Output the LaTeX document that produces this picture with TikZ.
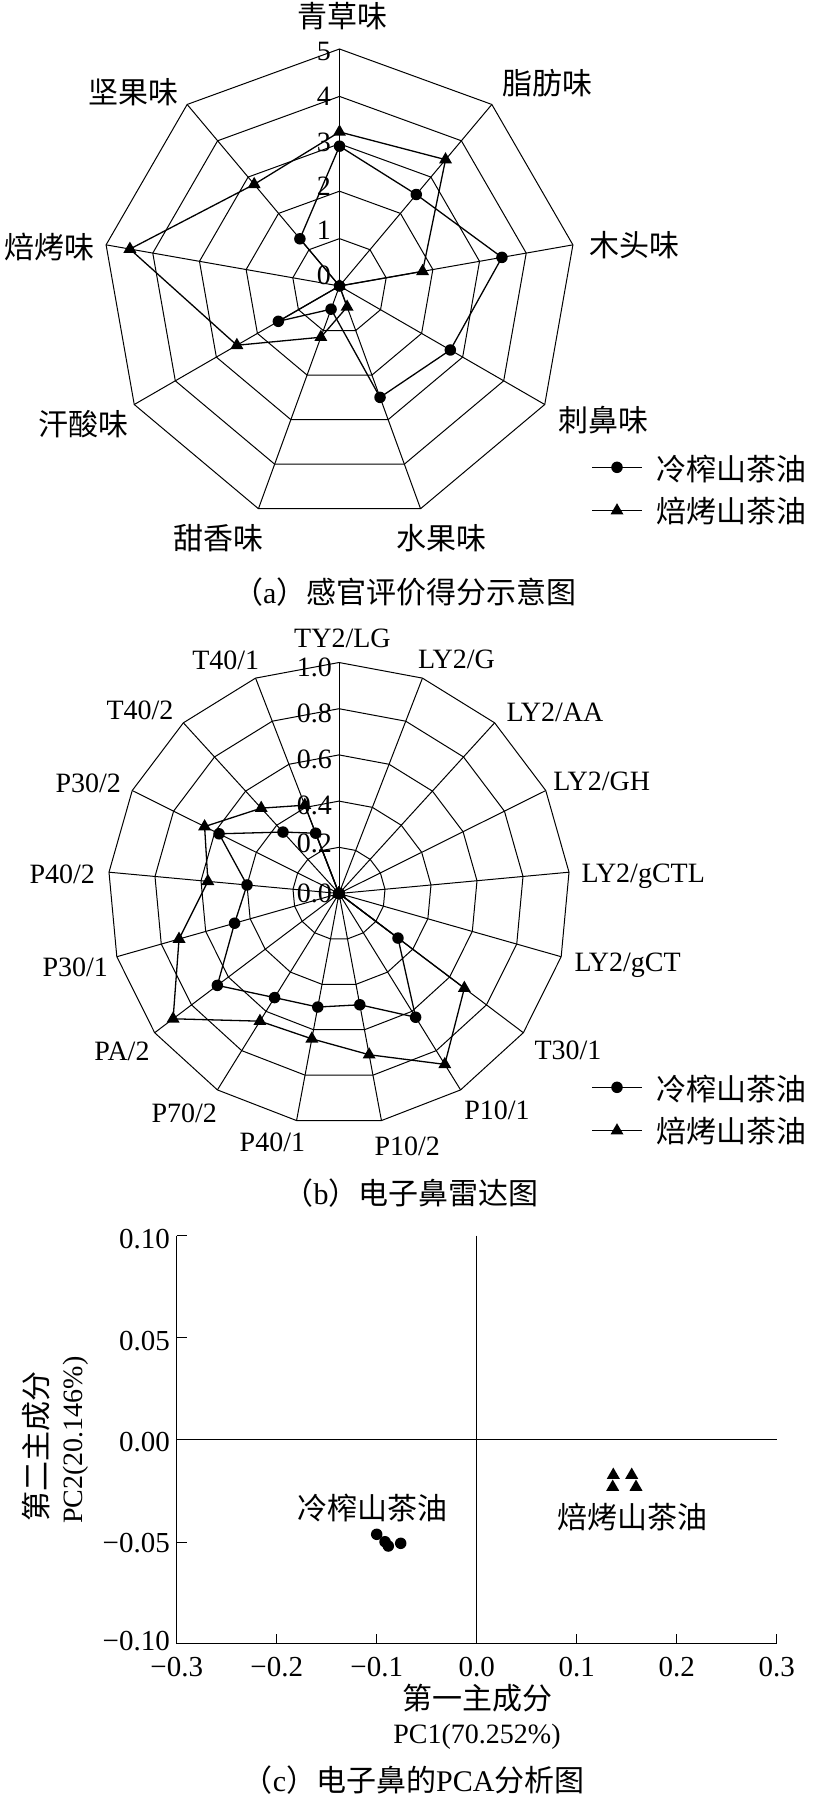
\documentclass[tikz,border=0pt]{standalone}
\usepackage{fontspec}
\setmainfont{Liberation Serif}
\newfontfamily\cjk{Noto Sans CJK SC}
\usetikzlibrary{calc,shapes.geometric}
\begin{document}
\begin{tikzpicture}[x=1pt,y=-1pt,
  gridl/.style={line width=1.0pt, black},
  dline/.style={line width=1.3pt, black},
  dotm/.style={circle, fill=black, inner sep=0pt, minimum size=11.5pt},
  trim/.style={regular polygon, regular polygon sides=3, fill=black, inner sep=0pt, minimum size=15pt},
  pdot/.style={circle, fill=black, inner sep=0pt, minimum size=11.5pt},
  ptri/.style={regular polygon, regular polygon sides=3, fill=black, inner sep=0pt, minimum size=15pt},
  lat/.style={font=\fontsize{28}{30}\selectfont, inner sep=0pt},
  latp/.style={font=\fontsize{29}{31}\selectfont, inner sep=0pt},
  cj/.style={font=\fontsize{30}{32}\selectfont\cjk, inner sep=0pt}]
\path[use as bounding box, fill=white] (0,0) rectangle (813,1800);

% ---------------- (a) sensory radar ----------------
\coordinate (ca) at (339.5,286);
\foreach \L in {1,...,5}{
  \pgfmathsetmacro\rr{47.4*\L}
  \draw[gridl] ($(ca)+(90:\rr pt)$) \foreach \k in {1,...,8}{ -- ($(ca)+({90-40*\k}:\rr pt)$)} -- cycle;
}
\foreach \k in {0,...,8}{
  \coordinate (av\k) at ($(ca)+({90-40*\k}:237pt)$);
  \draw[gridl] (ca) -- (av\k);
}
\foreach \t/\yy in {0/275,1/230,2/186,3/142,4/96,5/51}
  \node[lat, anchor=east] (al\t) at (331,\yy) {\t};

\node[cj] (an0) at (342.3,15.7) {青草味};
\node[cj] (an1) at (547.3,82.7) {脂肪味};
\node[cj] (an2) at (634,245.4) {木头味};
\node[cj] (an3) at (603.4,420.4) {刺鼻味};
\node[cj] (an4) at (441,538) {水果味};
\node[cj] (an5) at (218,538) {甜香味};
\node[cj] (an6) at (83,424.5) {汗酸味};
\node[cj] (an7) at (49.3,247.4) {焙烤味};
\node[cj] (an8) at (133.8,92.4) {坚果味};

\foreach \v [count=\k from 0] in {2.95,2.52,3.48,2.7,2.5,0.52,1.49,0,1.3}{
  \pgfmathsetmacro\rr{47.4*\v}
  \node[dotm] (ac\k) at ($(ca)+({90-40*\k}:\rr pt)$) {};
}
\foreach \v [count=\k from 0] in {3.25,3.48,1.78,0,0.47,1.15,2.5,4.49,2.8}{
  \pgfmathsetmacro\rr{47.4*\v}
  \node[trim] (ar\k) at ($(ca)+({90-40*\k}:\rr pt)$) {};
}
\draw[dline] (ac0.center) \foreach \k in {1,...,8}{ -- (ac\k.center)} -- cycle;
\draw[dline] (ar0.center) \foreach \k in {1,...,8}{ -- (ar\k.center)} -- cycle;

% legend (a)
\coordinate (la1s) at (592,467.3); \coordinate (la1e) at (642,467.3);
\draw[dline] (la1s) -- (la1e);
\node[dotm] (la1m) at (617,467.3) {};
\node[cj, anchor=west] (la1t) at (656,469) {冷榨山茶油};
\coordinate (la2s) at (592,510.7); \coordinate (la2e) at (642,510.7);
\draw[dline] (la2s) -- (la2e);
\node[trim] (la2m) at (617,510.7) {};
\node[cj, anchor=west] (la2t) at (656,511) {焙烤山茶油};

\node[cj] (capa) at (404.7,591.7) {（{\rmfamily a}）感官评价得分示意图};

% ---------------- (b) e-nose radar ----------------
\coordinate (cb) at (339,893.5);
\foreach \L in {1,...,5}{
  \pgfmathsetmacro\rr{46.2*\L}
  \draw[gridl] ($(cb)+(90:\rr pt)$) \foreach \k in {1,...,16}{ -- ($(cb)+({90-360/17*\k}:\rr pt)$)} -- cycle;
}
\foreach \k in {0,...,16}{
  \coordinate (bv\k) at ($(cb)+({90-360/17*\k}:231pt)$);
  \draw[gridl] (cb) -- (bv\k);
}
\foreach \t/\yy [count=\n] in {0.0/893,0.2/843,0.4/805,0.6/759.8,0.8/713.2,1.0/667.5}
  \node[lat, anchor=east] (bl\n) at (332,\yy) {\t};

\node[lat] (bn0) at (342.4,638.2) {TY2/LG};
\node[lat] (bn1) at (456.5,658.9) {LY2/G};
\node[lat] (bn2) at (555,712.3) {LY2/AA};
\node[lat] (bn3) at (601.8,781.2) {LY2/GH};
\node[lat] (bn4) at (643.3,876) {LY2/gCTL};
\node[lat] (bn5) at (627.7,965.6) {LY2/gCT};
\node[lat] (bn6) at (568,1050) {T30/1};
\node[lat] (bn7) at (497,1109.9) {P10/1};
\node[lat] (bn8) at (407.3,1146.6) {P10/2};
\node[lat] (bn9) at (272.4,1142) {P40/1};
\node[lat] (bn10) at (184.2,1113) {P70/2};
\node[lat] (bn11) at (122,1051.7) {PA/2};
\node[lat] (bn12) at (75.2,967.3) {P30/1};
\node[lat] (bn13) at (62.3,874.3) {P40/2};
\node[lat] (bn14) at (88.2,783) {P30/2};
\node[lat] (bn15) at (140,710.6) {T40/2};
\node[lat] (bn16) at (225.7,660.6) {T40/1};

\foreach \v [count=\k from 0] in {0,0,0,0,0,0,0.32,0.63,0.49,0.50,0.53,0.66,0.47,0.40,0.58,0.36,0.28}{
  \pgfmathsetmacro\rr{231*\v}
  \node[dotm] (bc\k) at ($(cb)+({90-360/17*\k}:\rr pt)$) {};
}
\foreach \v [count=\k from 0] in {0,0,0,0,0,0,0.68,0.87,0.71,0.64,0.65,0.90,0.72,0.57,0.65,0.50,0.41}{
  \pgfmathsetmacro\rr{231*\v}
  \node[trim] (br\k) at ($(cb)+({90-360/17*\k}:\rr pt)$) {};
}
\draw[dline] (bc0.center) \foreach \k in {1,...,16}{ -- (bc\k.center)} -- cycle;
\draw[dline] (br0.center) \foreach \k in {1,...,16}{ -- (br\k.center)} -- cycle;

% legend (b)
\coordinate (lb1s) at (592,1087.3); \coordinate (lb1e) at (642,1087.3);
\draw[dline] (lb1s) -- (lb1e);
\node[dotm] (lb1m) at (617,1087.3) {};
\node[cj, anchor=west] (lb1t) at (656,1089) {冷榨山茶油};
\coordinate (lb2s) at (592,1130.7); \coordinate (lb2e) at (642,1130.7);
\draw[dline] (lb2s) -- (lb2e);
\node[trim] (lb2m) at (617,1130.7) {};
\node[cj, anchor=west] (lb2t) at (656,1131) {焙烤山茶油};

\node[cj] (capb) at (411,1192.6) {（{\rmfamily b}）电子鼻雷达图};

% ---------------- (c) PCA ----------------
\coordinate (ytop) at (176.7,1235.7);
\coordinate (orig) at (176.7,1643.3);
\coordinate (xend) at (776.7,1643.3);
\coordinate (zt) at (476.7,1235.7);
\coordinate (zb) at (476.7,1643.3);
\coordinate (zl) at (176.7,1439.5);
\coordinate (zr) at (776.7,1439.5);
\draw[gridl] (ytop) -- (orig) -- (xend);
\draw[gridl] (zt) -- (zb);
\draw[gridl] (zl) -- (zr);
\foreach \i in {-0.2,-0.1,0.1,0.2,0.3}{
  \pgfmathsetmacro\xx{476.7+1000*\i}
  \draw[gridl] (\xx,1643.3) -- (\xx,1634.3);
}
\foreach \yy in {1235.7,1337.7,1542.3}{
  \draw[gridl] (176.7,\yy) -- (186.7,\yy);
}
\foreach \t/\xx [count=\n] in {−0.3/176.7,−0.2/276.7,−0.1/376.7,0.0/476.7,0.1/576.7,0.2/676.7,0.3/776.7}
  \node[latp] (xt\n) at (\xx,1667) {\t};
\foreach \t/\yy [count=\n] in {0.10/1239,0.05/1341,0.00/1442.5,−0.05/1543,−0.10/1641.5}
  \node[latp, anchor=east] (yt\n) at (170,\yy) {\t};

\node[pdot] (p1) at (376.7,1534.3) {};
\node[pdot] (p2) at (385,1541.7) {};
\node[pdot] (p3) at (388.3,1546) {};
\node[pdot] (p4) at (400.7,1543.3) {};
\node[ptri] (q1) at (613.3,1475) {};
\node[ptri] (q2) at (631.7,1475) {};
\node[ptri] (q3) at (612.7,1487) {};
\node[ptri] (q4) at (636,1487) {};

\node[cj] (gc) at (372.5,1507.5) {冷榨山茶油};
\node[cj] (gr) at (632.5,1516.7) {焙烤山茶油};

\node[cj] (xl1) at (477,1698) {第一主成分};
\node[lat] (xl2) at (477,1737) {PC1(70.252\%)};
\node[cj, rotate=90] (yl1) at (35.7,1446) {第二主成分};
\node[lat, rotate=90] (yl2) at (75.7,1440) {PC2(20.146\%)};

\node[cj] (capc) at (413.6,1780) {（{\rmfamily c}）电子鼻的{\rmfamily PCA}分析图};
\end{tikzpicture}
\end{document}
